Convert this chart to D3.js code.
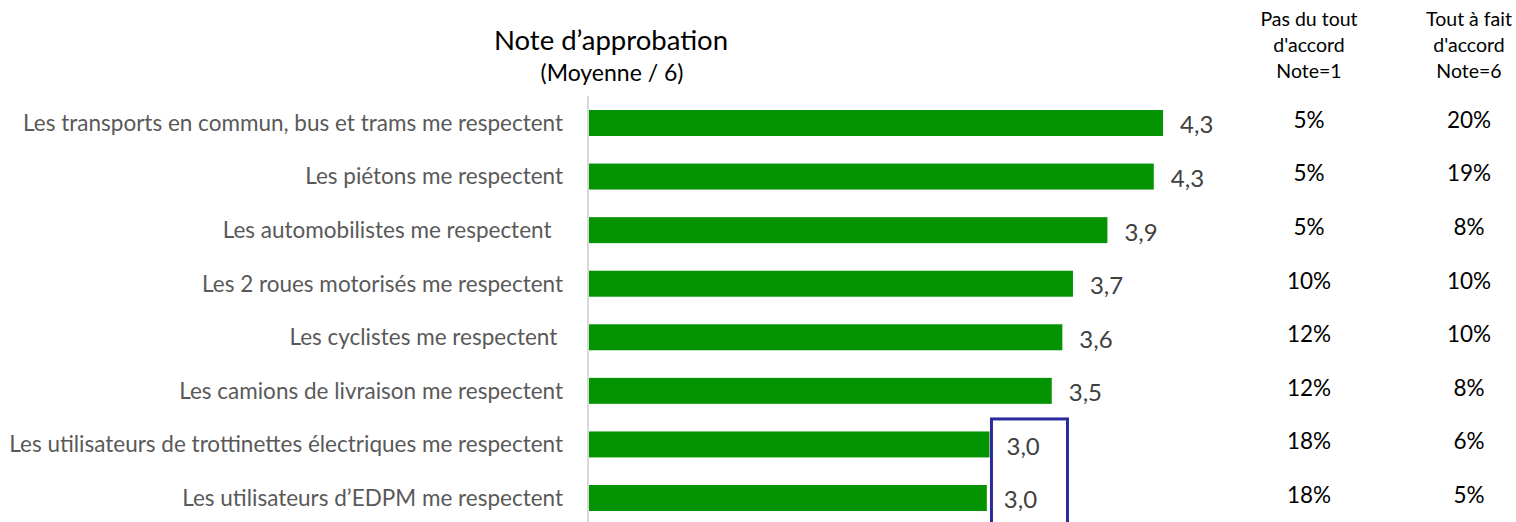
<!DOCTYPE html>
<html>
<head>
<meta charset="utf-8">
<script src="https://cdn.jsdelivr.net/npm/d3@7"></script>
<style>
  body { margin: 0; background: #fff; }
  svg text { font-family: Lato, "Open Sans", sans-serif; white-space: pre; }
</style>
</head>
<body>
<div id="chart"></div>
<script>
var categories = [
  "Les transports en commun, bus et trams me respectent",
  "Les piétons me respectent",
  "Les automobilistes me respectent  ",
  "Les 2 roues motorisés me respectent",
  "Les cyclistes me respectent ",
  "Les camions de livraison me respectent",
  "Les utilisateurs de trottinettes électriques me respectent",
  "Les utilisateurs d’EDPM me respectent"
];
var moyenne = [4.34, 4.27, 3.92, 3.66, 3.58, 3.50, 3.03, 3.01];
var pasDuTout = ["5%", "5%", "5%", "10%", "12%", "12%", "18%", "18%"];
var toutAFait = ["20%", "19%", "8%", "10%", "10%", "8%", "6%", "5%"];
var colHeaders = [
  ["Pas du tout", "d'accord", "Note=1"],
  ["Tout à fait", "d'accord", "Note=6"]
];

var width = 1516, height = 522;

var svg = d3.select('#chart').append('svg')
  .attr('width', width).attr('height', height);

var x = d3.scaleLinear().domain([0, 5]).range([588, 1250.5]);
var y = d3.scaleBand().domain(categories).range([96.2, 524.8])
  .paddingInner(0.515).paddingOuter(0.2575);

// titre
svg.append('text').attr('x', 611).attr('y', 50)
  .attr('text-anchor', 'middle').attr('font-size', 27.5).attr('fill', '#000')
  .text('Note d’approbation');
svg.append('text').attr('x', 612).attr('y', 81)
  .attr('text-anchor', 'middle').attr('font-size', 23).attr('fill', '#000')
  .text('(Moyenne / 6)');

// axe vertical
svg.append('line')
  .attr('x1', x(0)).attr('x2', x(0))
  .attr('y1', 96).attr('y2', height)
  .attr('stroke', '#d9d9d9').attr('stroke-width', 2);

// libellés
svg.selectAll('text.cat')
  .data(categories)
  .enter().append('text')
  .attr('class', 'cat')
  .attr('x', 563)
  .attr('y', function (d) { return y(d) + y.bandwidth() / 2; })
  .attr('dy', '0.35em')
  .attr('text-anchor', 'end')
  .attr('font-size', 22.5)
  .attr('fill', '#595959')
  .text(function (d) { return d; });

// barres
svg.selectAll('rect.bar')
  .data(moyenne)
  .enter().append('rect')
  .attr('class', 'bar')
  .attr('x', x(0) + 1)
  .attr('y', function (d, i) { return y(categories[i]); })
  .attr('width', function (d) { return x(d) - x(0) - 1; })
  .attr('height', y.bandwidth())
  .attr('fill', '#039303');

// valeurs
var fmt = function (v) { return d3.format('.1f')(v).replace('.', ','); };
svg.selectAll('text.val')
  .data(moyenne)
  .enter().append('text')
  .attr('class', 'val')
  .attr('x', function (d) { return x(d) + 17; })
  .attr('y', function (d, i) { return y(categories[i]) + y.bandwidth() / 2 + 2; })
  .attr('dy', '0.35em')
  .attr('font-size', 24)
  .attr('fill', '#404040')
  .text(fmt);

// encadré bleu
var i7 = 6;
svg.append('rect')
  .attr('x', x(moyenne[i7]) + 2)
  .attr('y', y(categories[i7]) - 12.5)
  .attr('width', 76)
  .attr('height', 120)
  .attr('fill', 'none')
  .attr('stroke', '#2b2a9a')
  .attr('stroke-width', 3);

// colonnes de droite
var colX = [1309, 1469];
colHeaders.forEach(function (lines, c) {
  svg.append('text')
    .attr('x', colX[c]).attr('y', 26)
    .attr('text-anchor', 'middle').attr('font-size', 19.5).attr('fill', '#000')
    .selectAll('tspan').data(lines).enter().append('tspan')
    .attr('x', colX[c])
    .attr('dy', function (d, j) { return j ? 26 : 0; })
    .text(function (d) { return d; });
});

[pasDuTout, toutAFait].forEach(function (col, c) {
  svg.selectAll('text.col' + c)
    .data(col)
    .enter().append('text')
    .attr('class', 'col' + c)
    .attr('x', colX[c])
    .attr('y', function (d, i) { return y(categories[i]) + y.bandwidth() / 2 - 3; })
    .attr('dy', '0.35em')
    .attr('text-anchor', 'middle')
    .attr('font-size', 22.5)
    .attr('fill', '#000')
    .text(function (d) { return d; });
});
</script>
</body>
</html>
